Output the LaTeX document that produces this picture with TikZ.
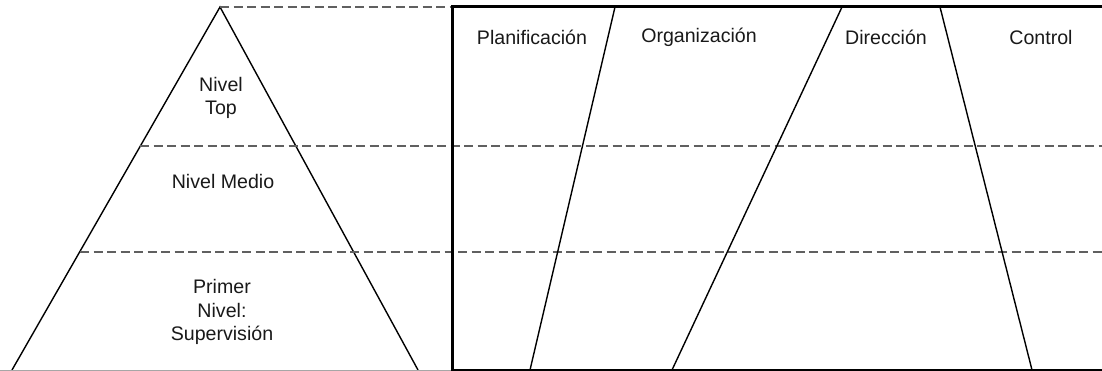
\documentclass[tikz,border=0pt]{standalone}
\usepackage{fontspec}
\setmainfont{Liberation Sans}
\begin{document}
\begin{tikzpicture}[x=1pt,y=-1pt,
  lbl/.style={font=\fontsize{19.6}{23.5}\selectfont, align=center, text=black!90, inner sep=0pt},
  sep/.style={gray!75!black, line width=1.5pt, dash pattern=on 9pt off 4.5pt},
  edge/.style={black, line width=1.4pt},
  frame/.style={black, line width=3pt}]
\useasboundingbox (0,0) rectangle (1102,371);

% pyramid
\coordinate (apex) at (220,7);
\coordinate (bl) at (12,370);
\coordinate (br) at (418,370);
\draw[edge] (bl) -- (apex) -- (br);

% level separators
\draw[sep] (apex) -- (452,7);
\draw[sep] (140,146) -- (1102,146);
\draw[sep] (80,252) -- (1102,252);

% functions frame
\draw[gray!70, line width=1pt] (0,370) -- (452,370);
\draw[frame] (1102,7) -- (452,7) -- (452,370) -- (1102,370);

% slanted dividers between the functions
\coordinate (d1t) at (615,7);   \coordinate (d1b) at (530,370);
\coordinate (d2t) at (842,7);   \coordinate (d2b) at (672,370);
\coordinate (d3t) at (940,7);   \coordinate (d3b) at (1032,370);
\draw[edge] (d1t) -- (d1b);
\draw[edge] (d2t) -- (d2b);
\draw[edge] (d3t) -- (d3b);

% labels
\node[lbl] (top) at (221,98) {Nivel\\Top};
\node[lbl] (mid) at (223,181) {Nivel Medio};
\node[lbl] (low) at (222,312) {Primer\\Nivel:\\Supervisión};
\node[lbl] (plan) at (532,37) {Planificación};
\node[lbl] (org) at (699,37) {Organización};
\node[lbl] (dir) at (886,37) {Dirección};
\node[lbl] (ctl) at (1041,37) {Control};
\end{tikzpicture}
\end{document}
